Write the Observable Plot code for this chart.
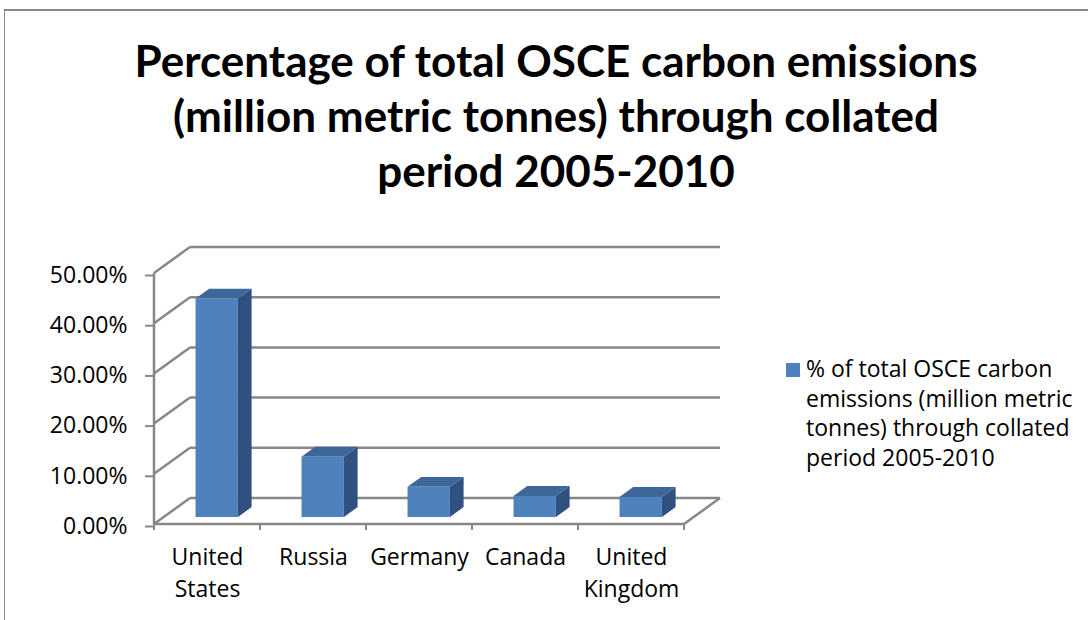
<!DOCTYPE html>
<html>
<head>
<meta charset="utf-8">
<script src="https://cdn.jsdelivr.net/npm/d3@7"></script>
<script src="https://cdn.jsdelivr.net/npm/@observablehq/plot@0.6"></script>
<style>
  html, body { margin: 0; padding: 0; background: #fff; }
  #wrap { position: relative; width: 1088px; height: 620px; overflow: hidden; font-family: "Open Sans", Lato, sans-serif; color: #000; }
  #border { position: absolute; left: 4px; top: 9px; width: 1200px; height: 700px; border-left: 1.5px solid #878787; border-top: 2px solid #878787; }
  #title { position: absolute; left: 0; top: 32.5px; width: 1112px; text-align: center; font-family: Lato, sans-serif; font-weight: 700; font-size: 44px; line-height: 55px; white-space: nowrap; }
  #chart { position: absolute; left: 0; top: 0; }
  #legend { position: absolute; left: 786px; top: 354px; font-size: 23px; line-height: 29.5px; }
  #legend .sw { position: absolute; left: 0; top: 9px; width: 14px; height: 14px; }
  #legend .txt { position: absolute; left: 20px; top: 0; white-space: nowrap; }
</style>
</head>
<body>
<div id="wrap">
  <div id="border"></div>
  <div id="chart"></div>
  <div id="title"></div>
  <div id="legend"></div>
</div>
<script>
// ---- data ----
const countries = ["United States", "Russia", "Germany", "Canada", "United Kingdom"];
const categoryLabels = ["United\nStates", "Russia", "Germany", "Canada", "United\nKingdom"];
const shares = [0.435, 0.120, 0.060, 0.042, 0.040];
const yTicks = [0, 0.1, 0.2, 0.3, 0.4, 0.5];
const titleLines = ["Percentage of total OSCE carbon emissions", "(million metric tonnes) through collated", "period 2005-2010"];
const seriesLines = ["% of total OSCE carbon", "emissions (million metric", "tonnes) through collated", "period 2005-2010"];

// ---- styles ----
const FRONT = "#4F81BD", TOP = "#3D6699", SIDE = "#30517F", GRID = "#878787";
const WALL = {dx: 36, dy: -26};   // depth of the 3D box in pixels
const F0 = 0.27, F1 = 0.65;       // bar front/back depth fractions
const BARW = 0.4;                 // bar width as fraction of band

const data = countries.map((c, i) => ({country: c, share: shares[i]}));
const labelOf = new Map(countries.map((c, i) => [c, categoryLabels[i]]));

function frame(index, scales) {
  const {x, y} = scales;
  const bw = x.bandwidth();
  const x0 = x(countries[0]), x1 = x(countries[countries.length - 1]) + bw;
  const y0 = y(0);
  const g = d3.create("svg:g").attr("fill", "none").attr("stroke", GRID).attr("stroke-width", 2.5);
  const line = (a, b, c, d) => g.append("line").attr("x1", a).attr("y1", b).attr("x2", c).attr("y2", d);
  for (const t of yTicks) {
    const yy = y(t);
    line(x0, yy, x0 + WALL.dx, yy + WALL.dy);
    line(x0 + WALL.dx, yy + WALL.dy, x1 + WALL.dx, yy + WALL.dy);
  }
  line(x0, y(yTicks[yTicks.length - 1]), x0, y0);
  line(x0, y0, x1, y0);
  line(x1, y0, x1 + WALL.dx, y0 + WALL.dy);
  const bounds = countries.map(c => x(c)).concat([x1]);
  for (const b of bounds) line(b, y0, b, y0 + 6).attr("stroke-width", 2);
  return g.node();
}

function bars3d(index, scales) {
  const {x, y} = scales;
  const bw = x.bandwidth();
  const w = bw * BARW;
  const ddx = WALL.dx * (F1 - F0), ddy = WALL.dy * (F1 - F0);
  const g = d3.create("svg:g");
  data.forEach(d => {
    const left = x(d.country) + (bw - w) / 2 + WALL.dx * F0;
    const yb = y(0) + WALL.dy * F0;
    const yt = y(d.share) + WALL.dy * F0;
    const r = left + w;
    g.append("polygon").attr("fill", SIDE)
      .attr("points", [[r, yb], [r, yt], [r + ddx, yt + ddy], [r + ddx, yb + ddy]].join(" "));
    g.append("polygon").attr("fill", TOP)
      .attr("points", [[left, yt], [r, yt], [r + ddx, yt + ddy], [left + ddx, yt + ddy]].join(" "));
    g.append("rect").attr("fill", FRONT).attr("x", left).attr("y", yt).attr("width", w).attr("height", yb - yt);
  });
  return g.node();
}

const plot = Plot.plot({
  width: 1088,
  height: 620,
  marginLeft: 153,
  marginRight: 404,
  marginTop: 273,
  marginBottom: 96,
  style: {fontFamily: "'Open Sans', Lato, sans-serif", fontSize: "23px", color: "#000", background: "transparent"},
  x: {type: "band", domain: countries, padding: 0, label: null},
  y: {domain: [0, 0.5], label: null},
  marks: [
    frame,
    bars3d,
    Plot.axisY({ticks: yTicks, tickFormat: d3.format(".2%"), tickSize: 8, tickPadding: 18, stroke: GRID, strokeWidth: 2, fill: "#000", fontSize: 23, dy: 2, label: null}),
    Plot.axisX({tickSize: 0, tickPadding: 18, tickFormat: c => labelOf.get(c), fill: "#000", fontSize: 23, lineHeight: 1.38, label: null})
  ]
});
document.getElementById("chart").appendChild(plot);

document.getElementById("title").innerHTML = titleLines.join("<br>");
const lg = document.getElementById("legend");
lg.innerHTML = `<div class="sw" style="background:${FRONT}"></div><div class="txt">${seriesLines.join("<br>")}</div>`;
</script>
</body>
</html>
